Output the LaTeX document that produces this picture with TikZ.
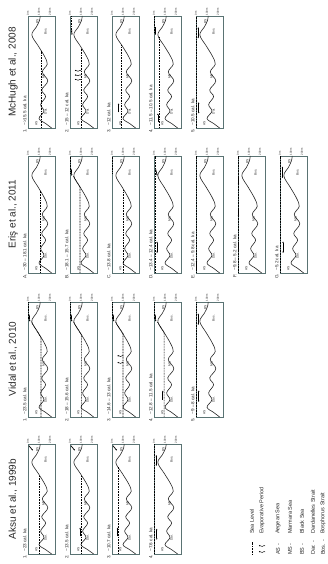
\documentclass[tikz,border=0pt]{standalone}
\usepackage{fontspec}
\setmainfont{Liberation Sans}
\usetikzlibrary{arrows.meta}
\definecolor{boxc}{RGB}{90,115,115}
\definecolor{txt}{RGB}{40,40,40}
\newcommand\tl{\textasciitilde}
\newcommand\profilepath{plot[smooth, tension=0.6] coordinates {(0.00,215)(0.04,160)(0.085,100)(0.15,145)(0.21,115)(0.28,160)(0.34,125)(0.42,180)(0.50,130)(0.57,175)(0.64,150)(0.73,95)(0.83,35)(0.90,75)(0.96,105)(1.00,110)}}
\tikzset{
 boxline/.style={draw=boxc, line width=0.55pt},
 profile/.style={draw=black!85, line width=0.6pt},
 sealevel/.style={draw=black, line width=0.6pt, dash pattern=on 0.9pt off 0.7pt},
 dlab/.style={font=\fontsize{2.8}{3}\selectfont, text=txt, inner sep=0.6pt},
 rlab/.style={font=\fontsize{3.2}{3.5}\selectfont, text=txt, inner sep=0pt},
 tlab/.style={font=\fontsize{4.6}{5}\selectfont, text=txt, inner sep=0pt},
 ttl/.style={font=\fontsize{10}{11}\selectfont, text=txt, inner sep=0pt},
 leg/.style={font=\fontsize{5.5}{6}\selectfont, text=txt, inner sep=0pt, anchor=west},
 flow/.style={-{Latex[length=1.5pt,width=1.5pt]}, line width=0.7pt, black},
 flowtwo/.style={{Latex[length=1.4pt,width=1.4pt]}-{Latex[length=1.4pt,width=1.4pt]}, line width=0.6pt, black},
 panel/.style n args={3}{shift={(#1,-#2)}, x={(#3pt,0pt)}, y={(0pt,-0.11pt)}},
 evap/.pic={\draw[x=1pt,y=1pt,line width=0.45pt,black,-{Latex[length=1.3pt,width=1.4pt]}] plot[smooth] coordinates {(0,0)(0.5,1)(0,2)(-0.5,3)(0,4)(0.3,5)(0,6.2)};},
}
\newcommand\basepanel[2]{%
  \draw[boxline] (0,0) rectangle (1,245);
  \draw[profile] \profilepath;
  \node[dlab,anchor=west] at (1,0) {0m};
  \node[dlab,anchor=west] at (1,100) {100m};
  \node[dlab,anchor=west] at (1,200) {200m};
  \node[rlab] at (0.04,75) {AS};
  \node[rlab] at (0.15,160) {Dar.};
  \node[rlab] at (0.46,140) {MS};
  \node[rlab] at (0.86,160) {Bos.};
  \node[rlab] at (0.95,85) {BS};
  \node[tlab,anchor=south east] at (-0.005,-12) {#1};
  \node[tlab,anchor=south west] at (0.02,-12) {#2};
}
\begin{document}
\begin{tikzpicture}[x=1pt,y=1pt]
\useasboundingbox (0,0) rectangle (328,564);
\begin{scope}[rotate=90, transform shape]
% titles
\node[ttl] (tA) at (65,-13) {Aksu et al., 1999b};
\node[ttl] (tV) at (205,-13) {Vidal et al., 2010};
\node[ttl] (tE) at (350,-13) {Eriş et al., 2011};
\node[ttl] (tM) at (492,-13) {McHugh et al., 2008};
% ---------- Aksu
\begin{scope}[panel={10}{28}{110}]
 \basepanel{1.}{\tl23 cal. ka}
 \draw[sealevel] (0,105) -- (0.705,105);
 \draw[flow] (0.985,8) -- (0.94,45);
\end{scope}
\begin{scope}[panel={10}{70}{110}]
 \basepanel{2.}{\tl13.5 cal. ka}
 \draw[sealevel] (0,105) -- (0.705,105);
 \draw[flow] (0.16,92) -- (0.24,92);
 \draw[flow] (0.985,8) -- (0.94,45);
\end{scope}
\begin{scope}[panel={10}{112}{110}]
 \basepanel{3.}{\tl10.7 cal. ka}
 \draw[sealevel] (0,60) -- (0.79,60);
 \draw[flow] (0.16,50) -- (0.24,50);
 \draw[flow] (0.985,8) -- (0.94,45);
\end{scope}
\begin{scope}[panel={10}{154}{110}]
 \basepanel{4.}{\tl7.6 cal. ka}
 \draw[sealevel] (0,4) -- (1,4);
 \draw[flowtwo] (0.13,25) -- (0.23,25);
 \draw[flowtwo] (0.80,20) -- (0.90,20);
\end{scope}
% ---------- Vidal
\begin{scope}[panel={147}{28}{115}]
 \basepanel{1.}{\tl23.5 cal. ka}
 \draw[sealevel] (0,118) -- (0.69,118) -- (0.83,28);
 \draw[sealevel] (0.85,6) -- (1,6);
 \draw[flow] (0.89,12) -- (0.83,16);
\end{scope}
\begin{scope}[panel={147}{70}{115}]
 \basepanel{2.}{\tl18 – 15.6 cal. ka}
 \draw[sealevel] (0,106) -- (0.71,106) -- (0.83,28);
 \draw[sealevel] (0.85,6) -- (1,6);
 \draw[flow] (0.89,12) -- (0.83,16);
\end{scope}
\begin{scope}[panel={147}{112}{115}]
 \basepanel{3.}{\tl14.6 – 13 cal. ka}
 \draw[sealevel] (0,100) -- (0.725,100) -- (0.83,28);
 \draw[sealevel] (0.85,6) -- (1,6);
 \pic at (0.47,105) {evap};
 \pic at (0.53,105) {evap};
 \draw[flow] (0.89,12) -- (0.83,16);
\end{scope}
\begin{scope}[panel={147}{154}{115}]
 \basepanel{4.}{\tl12.8 – 11.5 cal. ka}
 \draw[sealevel] (0,92) -- (0.735,92) -- (0.83,28);
 \draw[sealevel] (0.85,6) -- (1,6);
 \draw[flow] (0.15,80) -- (0.23,80);
 \draw[flow] (0.89,12) -- (0.83,16);
\end{scope}
\begin{scope}[panel={147}{196}{115}]
 \basepanel{5.}{\tl9 – 8 cal. ka}
 \draw[sealevel] (0,4) -- (1,4);
 \draw[flowtwo] (0.13,25) -- (0.23,25);
 \draw[flowtwo] (0.80,20) -- (0.90,20);
\end{scope}
% ---------- Eris
\begin{scope}[panel={291}{28}{117}]
 \basepanel{A.}{\tl30 – 18.1 cal. ka}
 \draw[sealevel] (0,112) -- (0.70,112);
\end{scope}
\begin{scope}[panel={291}{70}{117}]
 \basepanel{B.}{\tl18.1 – 15.7 cal. ka}
 \draw[sealevel] (0,91) -- (0.735,91) -- (0.83,28);
 \draw[sealevel] (0.85,6) -- (1,6);
 \draw[flow] (0.89,12) -- (0.83,16);
\end{scope}
\begin{scope}[panel={291}{112}{117}]
 \basepanel{C.}{\tl13.8 cal. ka}
 \draw[sealevel] (0,106) -- (0.713,106);
 \draw[sealevel] (0.85,6) -- (1,6);
\end{scope}
\begin{scope}[panel={291}{154}{117}]
 \basepanel{D.}{\tl13.4 – 12.4 cal. ka}
 \draw[sealevel] (0,8) -- (1,8);
 \draw[flowtwo] (0.17,28) -- (0.27,28);
 \draw[flow] (0.89,14) -- (0.83,30);
\end{scope}
\begin{scope}[panel={291}{196}{117}]
 \basepanel{E.}{\tl12.4 – 9.8 cal. ka}
 \draw[sealevel] (0,4) -- (1,4);
 \draw[flow] (0.03,4) -- (0.11,4);
\end{scope}
\begin{scope}[panel={291}{238}{117}]
 \basepanel{F.}{\tl9.8 – 5.2 cal. ka}
 \draw[sealevel] (0,4) -- (1,4);
 \draw[flow] (0.26,4) -- (0.19,4);
 \draw[flow] (0.55,4) -- (0.48,4);
 \draw[flow] (0.82,4) -- (0.75,4);
\end{scope}
\begin{scope}[panel={291}{280}{117}]
 \basepanel{G.}{\tl5.2 cal. ka}
 \draw[sealevel] (0,4) -- (1,4);
 \draw[flowtwo] (0.17,28) -- (0.27,28);
 \draw[flowtwo] (0.81,22) -- (0.91,22);
\end{scope}
% ---------- McHugh
\begin{scope}[panel={436}{28}{112}]
 \basepanel{1.}{\tl>15.5 cal. ka}
 \draw[sealevel] (0,118) -- (0.69,118);
\end{scope}
\begin{scope}[panel={436}{70}{112}]
 \basepanel{2.}{\tl15 – 12 cal. ka}
 \draw[sealevel] (0,106) -- (0.713,106);
 \draw[sealevel] (0.86,12) -- (1,12);
 \pic at (0.43,100) {evap};
 \pic at (0.47,100) {evap};
 \pic at (0.51,100) {evap};
 \draw[flow] (0.89,14) -- (0.83,18);
\end{scope}
\begin{scope}[panel={436}{112}{112}]
 \basepanel{3.}{\tl12 cal. ka}
 \draw[sealevel] (0,88) -- (0.742,88);
 \draw[flow] (0.14,60) -- (0.22,60);
\end{scope}
\begin{scope}[panel={436}{154}{112}]
 \basepanel{4.}{\tl11.5 – 10.5 cal. ka}
 \draw[sealevel] (0,45) -- (0.81,45);
 \draw[sealevel] (0.85,5) -- (1,5);
 \draw[flow] (0.05,35) -- (0.13,35);
 \draw[flow] (0.90,12) -- (0.83,12);
\end{scope}
\begin{scope}[panel={436}{196}{112}]
 \basepanel{5.}{\tl10.5 cal. ka}
 \draw[sealevel] (0,4) -- (1,4);
 \draw[flowtwo] (0.13,25) -- (0.23,25);
 \draw[flowtwo] (0.80,20) -- (0.90,20);
\end{scope}
% ---------- legend
\coordinate (l1a) at (9,-252); \coordinate (l1b) at (22,-252);
\draw[sealevel] (l1a) -- (l1b);
\node[leg] (lg1) at (30,-252) {Sea Level};
\pic at (12,-265) {evap};
\pic at (18,-265) {evap};
\node[leg] (lg2) at (30,-262) {Evaporative Period};
\node[leg] (la3) at (9,-278) {AS -};  \node[leg] (lg3) at (30,-278) {Aegean Sea};
\node[leg] (la4) at (9,-290) {MS -};  \node[leg] (lg4) at (30,-290) {Marmara Sea};
\node[leg] (la5) at (9,-302) {BS -};  \node[leg] (lg5) at (30,-302) {Black Sea};
\node[leg] (la6) at (9,-313) {Dar. -}; \node[leg] (lg6) at (30,-313) {Dardanelles Strait};
\node[leg] (la7) at (9,-323) {Bos. -}; \node[leg] (lg7) at (30,-323) {Bosphorus Strait};
\end{scope}
\end{tikzpicture}
\end{document}
